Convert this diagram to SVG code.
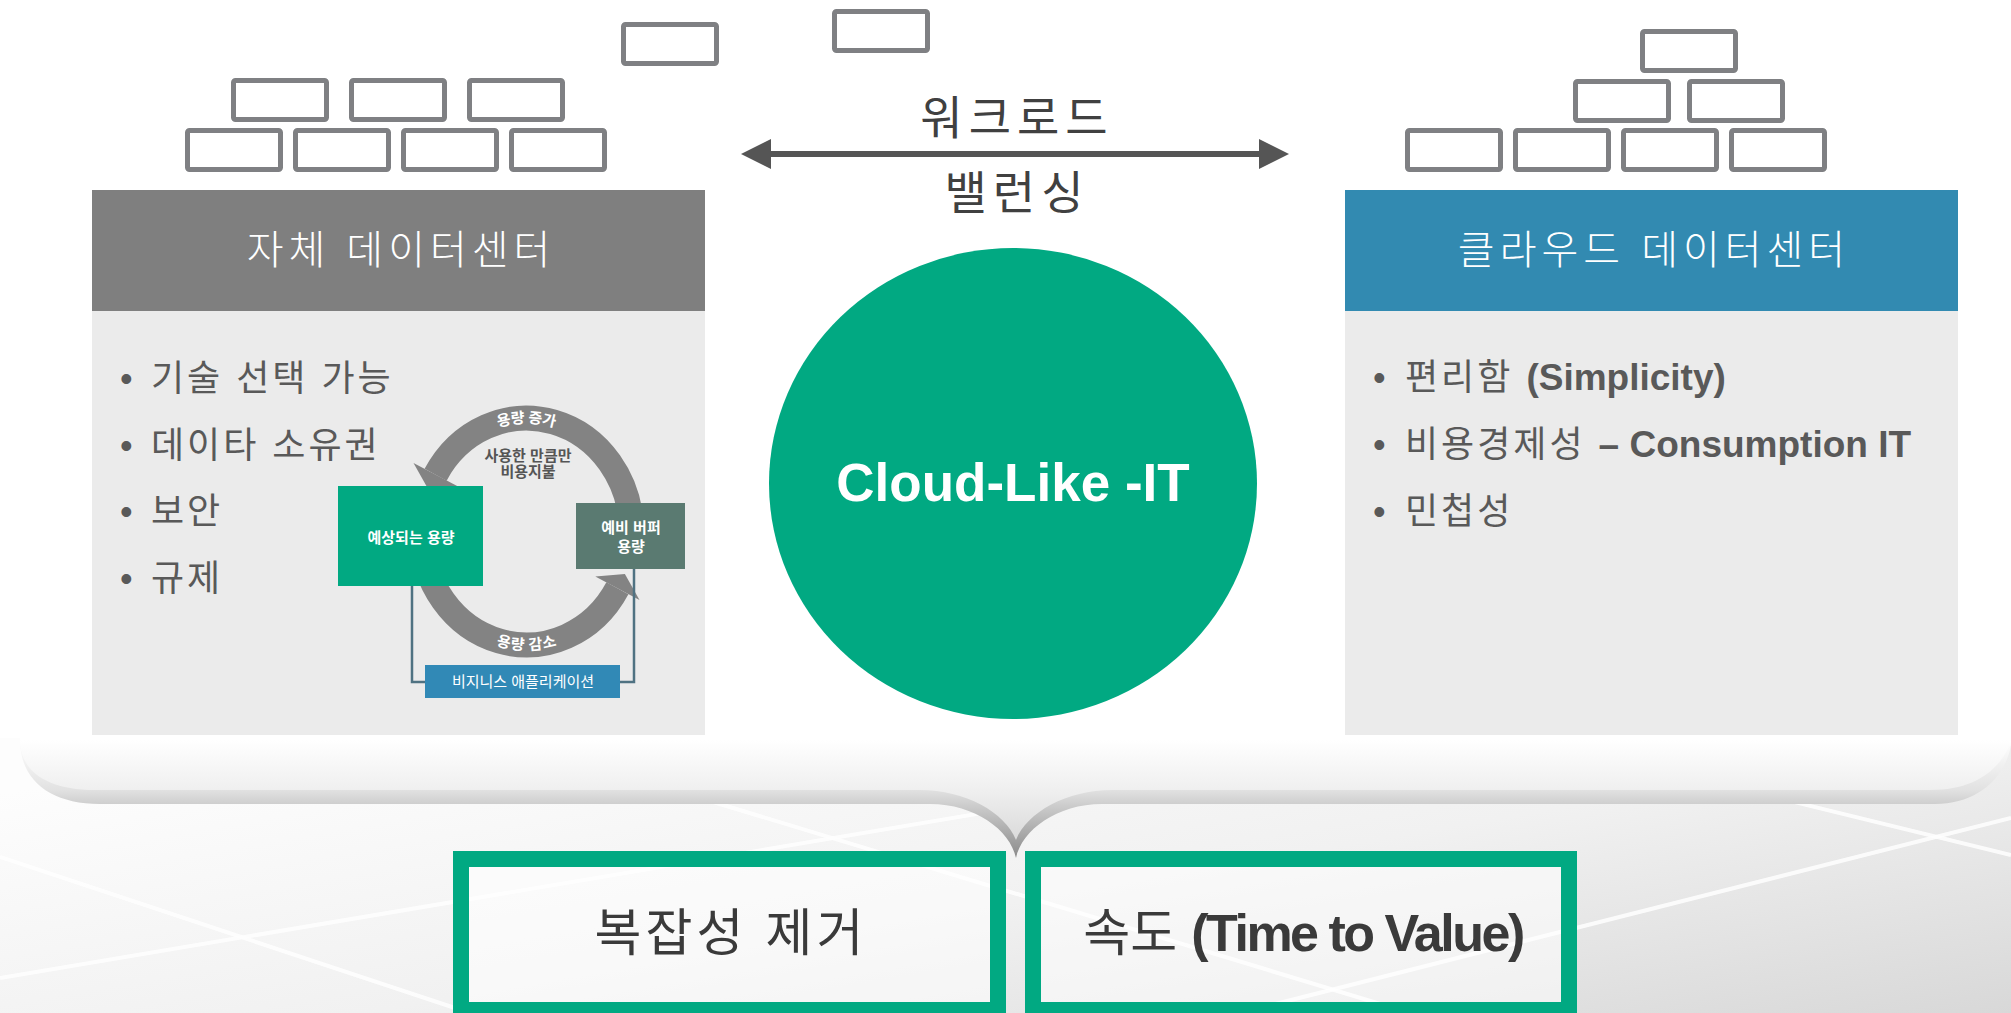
<svg xmlns="http://www.w3.org/2000/svg" width="2011" height="1013" viewBox="0 0 2011 1013">
<defs>
<style>
.brick{fill:#fff;stroke:#7f8083;stroke-width:5}
.f{font-family:'Liberation Sans','Noto Sans CJK KR',sans-serif}
.bullet{font-size:36px;fill:#595959}
.ko{letter-spacing:3px}
.en{font-weight:bold;font-size:37px;letter-spacing:0}
.hdr{font-size:40px;fill:#fff;letter-spacing:5px;text-anchor:middle;font-weight:300}
.bgline{stroke:#fff;stroke-width:4;opacity:.85}
.ring{fill:none;stroke:#838383;stroke-width:25}
.ringhead{fill:#838383}
.thin{fill:none;stroke:#4f7282;stroke-width:2.5}
.small{font-size:15px;font-weight:bold;fill:#fff;text-anchor:middle}
.big{font-size:51px;fill:#3a3a3a;text-anchor:middle}
.gbox{fill:#fff;fill-opacity:.55;stroke:#01a982;stroke-width:16}
</style>
<linearGradient id="bgGrad" x1="0" y1="0.2" x2="1" y2="1">
<stop offset="0" stop-color="#fdfdfd"/>
<stop offset="0.5" stop-color="#f1f1f1"/>
<stop offset="1" stop-color="#d8d8d8"/>
</linearGradient>
<linearGradient id="shadowGrad" gradientUnits="userSpaceOnUse" x1="0" y1="740" x2="0" y2="858">
<stop offset="0" stop-color="#ffffff"/>
<stop offset="0.42" stop-color="#e2e2e2"/>
<stop offset="0.55" stop-color="#cdcdcd"/>
<stop offset="1" stop-color="#8a8a8a"/>
</linearGradient>
<linearGradient id="bandGrad" gradientUnits="userSpaceOnUse" x1="0" y1="740" x2="0" y2="845">
<stop offset="0" stop-color="#ffffff"/>
<stop offset="0.48" stop-color="#efefef"/>
<stop offset="1" stop-color="#d8d8d8"/>
</linearGradient>
<marker id="ah" markerUnits="userSpaceOnUse" markerWidth="30" markerHeight="30" refX="0" refY="15" orient="auto-start-reverse">
<path d="M0,0 L30,15 L0,30 Z" fill="#555"/>
</marker>
<path id="topArc" d="M421.5,531.5 A105,113.5 0 0 1 631.5,531.5"/>
<path id="botArc" d="M421.5,531.5 A105,113.5 0 0 0 631.5,531.5"/>
</defs>

<rect x="0" y="0" width="2011" height="1013" fill="#fff"/>
<rect x="0" y="738" width="2011" height="275" fill="url(#bgGrad)"/>
<g id="bg-lines">
<line class="bgline" x1="1500" y1="730" x2="2011" y2="855"/>
<line class="bgline" x1="2011" y1="818" x2="1240" y2="1013"/>
<line class="bgline" x1="700" y1="798" x2="1410" y2="1013"/>
<line class="bgline" x1="1060" y1="800" x2="0" y2="978"/>
<line class="bgline" x1="0" y1="857" x2="470" y2="1013"/>
</g>

<g id="brace">
<path d="M20,738 L2011,738 L2011,745 C2005,780 1975,804 1935,804 L1102,804 C1057,804 1022,830 1016,858 C1010,830 975,804 930,804 L100,804 C50,804 20,780 20,740 Z" fill="url(#shadowGrad)"/>
<path d="M20,738 L2011,738 L2011,742 C2000,770 1975,790 1930,790 L1112,790 C1067,790 1027,812 1016,840 C1005,812 965,790 920,790 L95,790 C45,790 20,770 20,740 Z" fill="url(#bandGrad)"/>
</g>

<g id="bricks-left">
<rect class="brick" x="623.5" y="24.5" width="93" height="39" rx="2"/>
<rect class="brick" x="834.5" y="11.5" width="93" height="39" rx="2"/>
<rect class="brick" x="233.5" y="80.5" width="93" height="39" rx="2"/>
<rect class="brick" x="351.5" y="80.5" width="93" height="39" rx="2"/>
<rect class="brick" x="469.5" y="80.5" width="93" height="39" rx="2"/>
<rect class="brick" x="187.5" y="130.5" width="93" height="39" rx="2"/>
<rect class="brick" x="295.5" y="130.5" width="93" height="39" rx="2"/>
<rect class="brick" x="403.5" y="130.5" width="93" height="39" rx="2"/>
<rect class="brick" x="511.5" y="130.5" width="93" height="39" rx="2"/>
</g>

<g id="bricks-right">
<rect class="brick" x="1642.5" y="31.5" width="93" height="39" rx="2"/>
<rect class="brick" x="1575.5" y="81.5" width="93" height="39" rx="2"/>
<rect class="brick" x="1689.5" y="81.5" width="93" height="39" rx="2"/>
<rect class="brick" x="1407.5" y="130.5" width="93" height="39" rx="2"/>
<rect class="brick" x="1515.5" y="130.5" width="93" height="39" rx="2"/>
<rect class="brick" x="1623.5" y="130.5" width="93" height="39" rx="2"/>
<rect class="brick" x="1731.5" y="130.5" width="93" height="39" rx="2"/>
</g>

<g id="onprem">
<rect x="92" y="190" width="613" height="121" fill="#7f7f7f"/>
<rect x="92" y="311" width="613" height="424" fill="#ebebeb"/>
<text class="f hdr" x="401" y="264">자체 데이터센터</text>
<text class="f bullet"><tspan x="120" y="391">•</tspan><tspan class="ko" x="151" y="391">기술 선택 가능</tspan></text>
<text class="f bullet"><tspan x="120" y="458">•</tspan><tspan class="ko" x="151" y="458">데이타 소유권</tspan></text>
<text class="f bullet"><tspan x="120" y="524">•</tspan><tspan class="ko" x="151" y="524">보안</tspan></text>
<text class="f bullet"><tspan x="120" y="591">•</tspan><tspan class="ko" x="151" y="591">규제</tspan></text>
</g>

<g id="cycle">
<path class="ring" d="M631.5,531.5 A105,113.5 0 0 0 435.6,474.75"/>
<polygon class="ringhead" points="458.1,486.6 428.1,488.9 413.5,462.9"/>
<path class="ring" d="M421.5,531.5 A105,113.5 0 0 0 617.4,588.25"/>
<polygon class="ringhead" points="639.5,600 624.9,574.1 595.3,576.5"/>
<text class="f" font-size="15" font-weight="bold" fill="#fff"><textPath href="#topArc" startOffset="50%" text-anchor="middle"><tspan dy="5">용량 증가</tspan></textPath></text>
<text class="f" font-size="15" font-weight="bold" fill="#fff"><textPath href="#botArc" startOffset="50%" text-anchor="middle"><tspan dy="5">용량 감소</tspan></textPath></text>
<text class="f" font-size="15" fill="#555" font-weight="bold" text-anchor="middle"><tspan x="528" y="461">사용한 만큼만</tspan><tspan x="528" y="477">비용지불</tspan></text>
<path class="thin" d="M412,586 L412,682 L425,682"/>
<path class="thin" d="M634,569 L634,682 L620,682"/>
<g id="expected">
<rect x="338" y="486" width="145" height="100" fill="#01a982"/>
<text class="f small" x="411" y="543">예상되는 용량</text>
</g>
<g id="buffer">
<rect x="576" y="503" width="109" height="66" fill="#5a7a71"/>
<text class="f small"><tspan x="631" y="533">예비 버퍼</tspan><tspan x="631" y="552">용량</tspan></text>
</g>
<g id="bizapp">
<rect x="425" y="665" width="195" height="33" fill="#3189b6"/>
<text class="f" font-size="15" fill="#fff" text-anchor="middle" x="523" y="687">비지니스 애플리케이션</text>
</g>
</g>

<g id="cloud">
<rect x="1345" y="190" width="613" height="121" fill="#328ab1"/>
<rect x="1345" y="311" width="613" height="424" fill="#ebebeb"/>
<text class="f hdr" x="1654" y="264">클라우드 데이터센터</text>
<text class="f bullet"><tspan x="1373" y="390">•</tspan><tspan class="ko" x="1405" y="390">편리함 </tspan><tspan class="en">(Simplicity)</tspan></text>
<text class="f bullet"><tspan x="1373" y="457">•</tspan><tspan class="ko" x="1405" y="457">비용경제성 </tspan><tspan class="en">– Consumption IT</tspan></text>
<text class="f bullet"><tspan x="1373" y="524">•</tspan><tspan class="ko" x="1405" y="524">민첩성</tspan></text>
</g>

<g id="cloud-like-it">
<ellipse cx="1013" cy="483.5" rx="244" ry="235.5" fill="#01a982"/>
<text class="f" x="1013" y="501" font-size="53" font-weight="bold" fill="#fff" text-anchor="middle">Cloud-Like -IT</text>
</g>

<g id="connectors">
<line x1="771" y1="154" x2="1259" y2="154" stroke="#555" stroke-width="6" marker-start="url(#ah)" marker-end="url(#ah)"/>
</g>
<g id="balance-label">
<text class="f" font-size="46" fill="#404040" text-anchor="middle" letter-spacing="6"><tspan x="1017" y="134">워크로드</tspan><tspan x="1017" y="209">밸런싱</tspan></text>
</g>

<g id="simplify">
<rect class="gbox" x="461" y="859" width="537" height="151"/>
<text class="f big" x="731" y="951" letter-spacing="4">복잡성 제거</text>
</g>
<g id="speed">
<rect class="gbox" x="1033" y="859" width="536" height="151"/>
<text class="f big" x="1303" y="951">속도 <tspan font-weight="bold" font-size="52" letter-spacing="-2.5">(Time to Value)</tspan></text>
</g>
</svg>
